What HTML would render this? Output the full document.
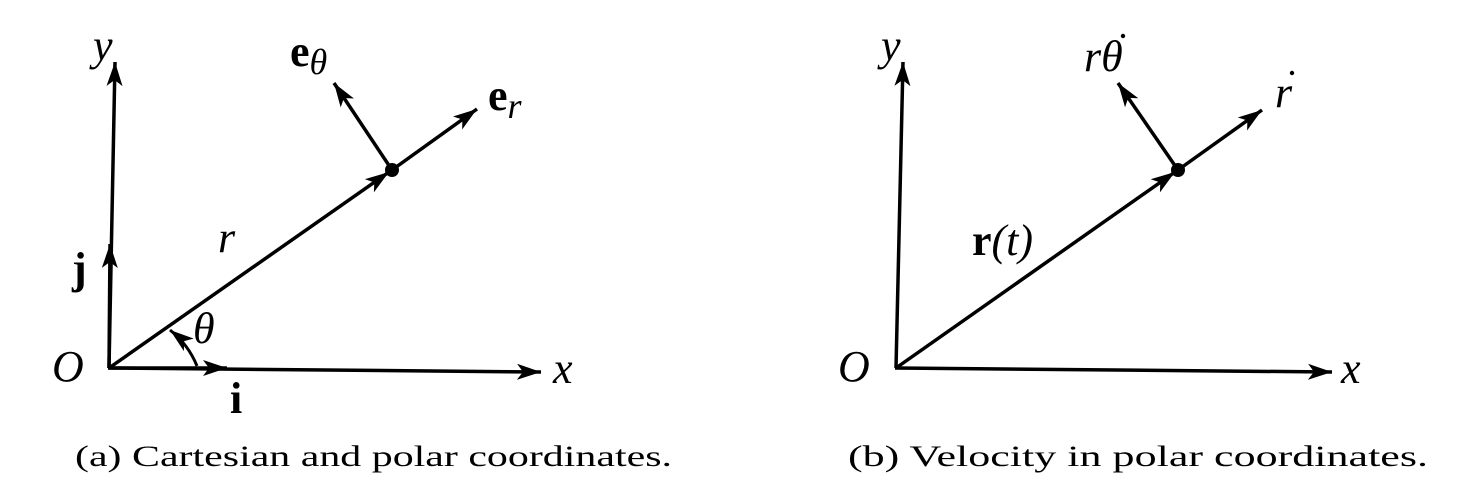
<!DOCTYPE html>
<html><head><meta charset="utf-8"><style>
html,body{margin:0;padding:0;background:#fff;}
svg{display:block;}
svg text{font-family:"Liberation Serif","Times New Roman","Nimbus Roman","DejaVu Serif",serif;fill:#000;}
</style></head><body>
<svg width="1484" height="496" viewBox="0 0 1484 496" font-family="Liberation Serif, Times New Roman, serif">
<defs>
<marker id="ah" markerWidth="26" markerHeight="16" refX="24" refY="8" orient="auto" markerUnits="userSpaceOnUse">
<path d="M0,0 L24,8 L0,16 L6,8 Z" fill="#000"/>
</marker>
</defs>
<g stroke="#000" stroke-width="3.5" fill="none">
<line x1="109" y1="368" x2="115" y2="62" marker-end="url(#ah)"/>
<line x1="108" y1="368" x2="541" y2="372" marker-end="url(#ah)"/>
<line x1="109" y1="368" x2="110" y2="244" marker-end="url(#ah)"/>
<line x1="109" y1="368" x2="227" y2="368" marker-end="url(#ah)"/>
<line x1="109" y1="368" x2="389" y2="172" marker-end="url(#ah)"/>
<line x1="392" y1="170" x2="477" y2="109" marker-end="url(#ah)"/>
<line x1="392" y1="170" x2="334" y2="83" marker-end="url(#ah)"/>
<path d="M197,366 A88,88 0 0 0 170,330" marker-end="url(#ah)" stroke-width="3"/>
<circle cx="392" cy="170" r="7" fill="#000" stroke="none"/>
</g>
<g font-size="44">
<text x="93" y="60" font-style="italic">y</text>
<text x="553" y="383" font-style="italic">x</text>
<text x="52" y="381" font-style="italic">O</text>
<text x="72" y="283" font-weight="bold">j</text>
<text x="230" y="413" font-weight="bold">i</text>
<text x="218" y="252" font-style="italic">r</text>
<text x="193" y="343" font-style="italic">θ</text>
<text x="488" y="110" font-weight="bold">e<tspan font-weight="normal" font-style="italic" font-size="36" dy="8">r</tspan></text>
<text x="290" y="66" font-weight="bold">e<tspan font-weight="normal" font-style="italic" font-size="36" dy="8">θ</tspan></text>
</g>
<g stroke="#000" stroke-width="3.5" fill="none">
<line x1="896" y1="368" x2="903" y2="62" marker-end="url(#ah)"/>
<line x1="895" y1="368" x2="1332" y2="372" marker-end="url(#ah)"/>
<line x1="896" y1="368" x2="1175" y2="172" marker-end="url(#ah)"/>
<line x1="1178" y1="170" x2="1262" y2="110" marker-end="url(#ah)"/>
<line x1="1178" y1="170" x2="1118" y2="83" marker-end="url(#ah)"/>
<circle cx="1178" cy="170" r="7" fill="#000" stroke="none"/>
</g>
<g font-size="44">
<text x="881" y="60" font-style="italic">y</text>
<text x="1341" y="383" font-style="italic">x</text>
<text x="838" y="381" font-style="italic">O</text>
<text x="972" y="255" font-weight="bold">r<tspan font-weight="normal" font-style="italic">(t)</tspan></text>
<text x="1275" y="107" font-style="italic">r</text>
<circle cx="1292" cy="73" r="2.2" fill="#000"/>
<text x="1084" y="71" font-style="italic">rθ</text>
<circle cx="1123" cy="36" r="2.2" fill="#000"/>
</g>
<text x="75" y="466" font-size="30" textLength="597" lengthAdjust="spacingAndGlyphs">(a) Cartesian and polar coordinates.</text>
<text x="848" y="466" font-size="30" textLength="580" lengthAdjust="spacingAndGlyphs">(b) Velocity in polar coordinates.</text>
</svg>
</body></html>
